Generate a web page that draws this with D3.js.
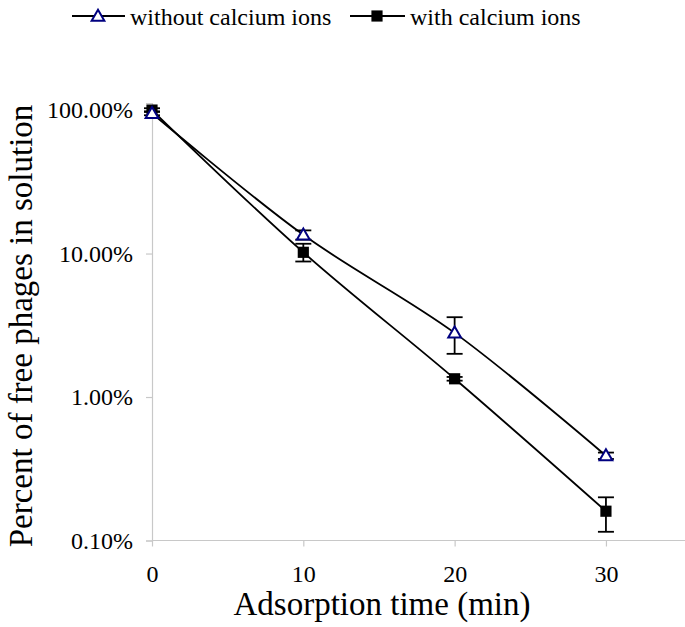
<!DOCTYPE html>
<html><head><meta charset="utf-8">
<script src="https://cdn.jsdelivr.net/npm/d3@7"></script>
<style>body{margin:0;background:#fff}svg{display:block}</style>
</head><body>
<svg id="c" width="685" height="627"></svg>
<script>
const times = [0, 10, 20, 30];
const withoutCa = [0.95, 0.135, 0.028, 0.0039];
const withoutErrLo = [0.92, 0.125, 0.0200, 0.0037];
const withoutErrHi = [0.98, 0.145, 0.0360, 0.0041];
const withCa = [1.0, 0.102, 0.0134, 0.0016];
const withErrLo = [0.97, 0.088, 0.0130, 0.00115];
const withErrHi = [1.03, 0.117, 0.0138, 0.0020];
const yTicks = [1, 0.1, 0.01, 0.001];
const yTickLabels = ["100.00%", "10.00%", "1.00%", "0.10%"];
const xTicks = [0, 10, 20, 30];
const seriesNames = ["without calcium ions", "with calcium ions"];

const FONT = "'Liberation Serif', 'Times New Roman', Tinos, 'DejaVu Serif', serif";
const svg = d3.select("#c");
const x = d3.scaleLinear().domain([0, 35]).range([152, 681.6]);
const y = d3.scaleLog().domain([0.001, 1.12]).range([540.5, 103]);

// axes
const gx = svg.append("g").attr("transform", "translate(0,540.5)")
  .call(d3.axisBottom(x).tickValues(xTicks).tickSize(6).tickPadding(18).tickFormat(d3.format("d")));
const gy = svg.append("g").attr("transform", "translate(152,0)")
  .call(d3.axisLeft(y).tickValues(yTicks).tickSize(6).tickPadding(13).tickFormat(d => yTickLabels[yTicks.indexOf(d)]));
[gx, gy].forEach(g => {
  g.attr("font-family", null).attr("font-size", null);
  g.select(".domain").attr("stroke", "#c8c8c8").attr("stroke-width", 1.2);
  g.selectAll(".tick line").attr("stroke", "#c8c8c8").attr("stroke-width", 1.2);
  g.selectAll(".tick text").style("font-family", FONT).style("font-size", "24px").attr("fill", "#000");
});
gx.select(".domain").attr("d", "M152,0H685");

// lines
const line = d3.line().x((d, i) => x(times[i])).y(d => y(d)).curve(d3.curveCatmullRom.alpha(0.5));
svg.append("path").datum(withoutCa).attr("d", line).attr("fill", "none").attr("stroke", "#000").attr("stroke-width", 1.8);
svg.append("path").datum(withCa).attr("d", line).attr("fill", "none").attr("stroke", "#000").attr("stroke-width", 1.8);

// error bars
function errBars(lo, hi) {
  const g = svg.append("g").attr("stroke", "#000").attr("stroke-width", 1.8);
  times.forEach((t, i) => {
    const cx = x(t);
    g.append("line").attr("x1", cx).attr("x2", cx).attr("y1", y(lo[i])).attr("y2", y(hi[i]));
    g.append("line").attr("x1", cx - 8).attr("x2", cx + 8).attr("y1", y(lo[i])).attr("y2", y(lo[i]));
    g.append("line").attr("x1", cx - 8).attr("x2", cx + 8).attr("y1", y(hi[i])).attr("y2", y(hi[i]));
  });
}
errBars(withoutErrLo, withoutErrHi);
errBars(withErrLo, withErrHi);

// markers
const tri = d3.symbol().type(d3.symbolTriangle).size(70);
const sq = d3.symbol().type(d3.symbolSquare).size(125);
svg.append("g").selectAll("path").data(withCa).join("path")
  .attr("d", sq).attr("transform", (d, i) => `translate(${x(times[i])},${y(d)})`).attr("fill", "#000");
svg.append("g").selectAll("path").data(withoutCa).join("path")
  .attr("d", tri).attr("transform", (d, i) => `translate(${x(times[i])},${y(d) + 1})`)
  .attr("fill", "#fff").attr("stroke", "#000080").attr("stroke-width", 2);

// legend
const lg = svg.append("g");
lg.append("line").attr("x1", 72).attr("x2", 125).attr("y1", 16).attr("y2", 16).attr("stroke", "#000").attr("stroke-width", 1.8);
lg.append("path").attr("d", tri).attr("transform", "translate(98,17)").attr("fill", "#fff").attr("stroke", "#000080").attr("stroke-width", 2);
lg.append("text").attr("x", 130).attr("y", 25).style("font-family", FONT).style("font-size", "24px").text(seriesNames[0]);
lg.append("line").attr("x1", 350).attr("x2", 405).attr("y1", 16).attr("y2", 16).attr("stroke", "#000").attr("stroke-width", 1.8);
lg.append("path").attr("d", sq).attr("transform", "translate(377,16)").attr("fill", "#000");
lg.append("text").attr("x", 410).attr("y", 25).style("font-family", FONT).style("font-size", "24px").text(seriesNames[1]);

// titles
svg.append("text").attr("x", 382).attr("y", 615).attr("text-anchor", "middle").style("font-family", FONT).style("font-size", "33px").text("Adsorption time (min)");
svg.append("text").attr("transform", "translate(32,326) rotate(-90)").attr("text-anchor", "middle").style("font-family", FONT).style("font-size", "33px").text("Percent of free phages in solution");
</script>
</body></html>
